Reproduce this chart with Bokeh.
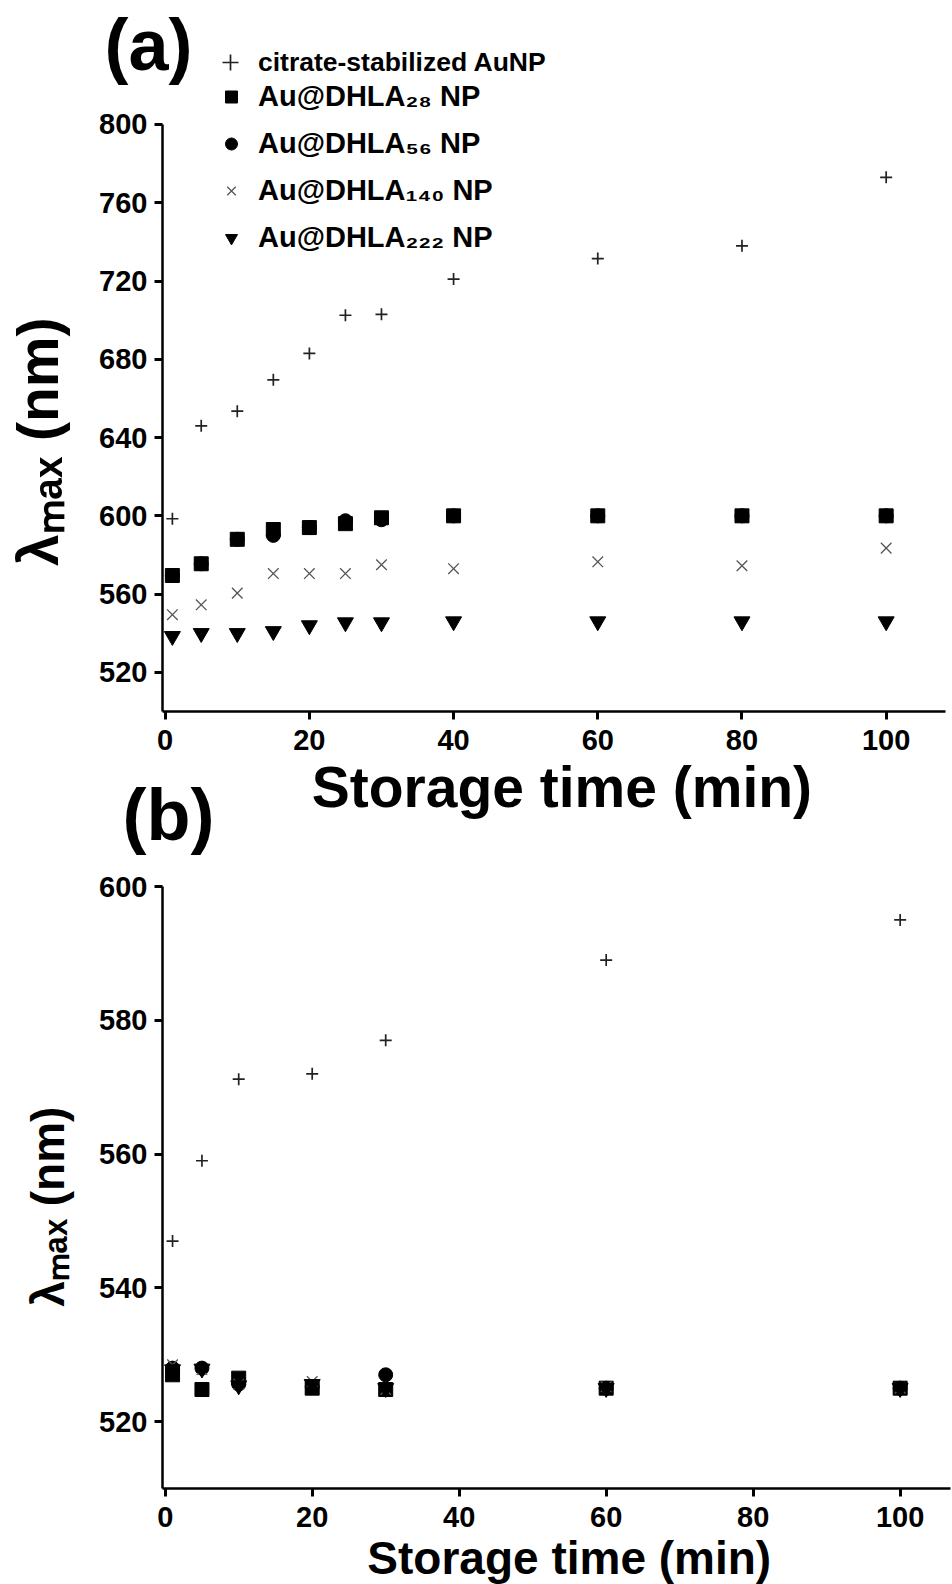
from bokeh.plotting import figure
from bokeh.models import Range1d, FixedTicker, Legend, LegendItem, Label
from bokeh.layouts import column
from bokeh.embed import file_html
from bokeh.resources import INLINE

FONT = "Liberation Sans"

# ---------------- data: panel (a) ----------------
time_a = [1, 5, 10, 15, 20, 25, 30, 40, 60, 80, 100]
citrate_a = [598.5, 646, 653.5, 669.5, 683, 702.5, 703, 721, 731.5, 738, 773]
dhla28_a = [569.5, 575.5, 588, 593, 594, 596, 599, 600, 600, 600, 600]
dhla56_a = [569.5, 575.5, 588, 590, 594, 597.5, 598, 600, 600, 600, 600]
dhla140_a = [549.5, 554.5, 560.5, 570.5, 570.5, 570.5, 575, 573, 576.5, 574.5, 583.5]
dhla222_a = [538.5, 540, 540, 541, 544, 545.5, 545.5, 546, 546, 546, 546]

# ---------------- data: panel (b) ----------------
time_b = [1, 5, 10, 20, 30, 60, 100]
citrate_b = [547, 559, 571.2, 572, 577, 589, 595]
dhla28_b = [527.0, 524.8, 526.5, 525.0, 524.8, 525.0, 525.0]
dhla56_b = [528.0, 528.0, 525.6, 525.2, 527.0, 525.0, 525.0]
dhla140_b = [528.5, 527.8, 525.6, 526.0, 524.8, 525.2, 525.0]
dhla222_b = [527.8, 527.9, 525.4, 525.6, 525.0, 525.0, 525.0]

x_ticks = [0, 20, 40, 60, 80, 100]
y_ticks_a = [520, 560, 600, 640, 680, 720, 760, 800]
y_ticks_b = [520, 540, 560, 580, 600]

labels = ["citrate-stabilized AuNP", "Au@DHLA\u2082\u2088 NP", "Au@DHLA\u2085\u2086 NP",
          "Au@DHLA\u2081\u2084\u2080 NP", "Au@DHLA\u2082\u2082\u2082 NP"]
x_label = "Storage time (min)"
y_label = "\u03bb\u2098\u2090\u2093 (nm)"
NBSP = "\u00a0"


def style_axes(p, tick_size, label_size, y_standoff, x_standoff, x_tick_standoff, y_tick_standoff):
    p.outline_line_color = None
    p.xgrid.visible = False
    p.ygrid.visible = False
    p.background_fill_color = "white"
    p.border_fill_color = "white"
    for ax in (p.xaxis[0], p.yaxis[0]):
        ax.axis_line_width = 2.5
        ax.axis_line_color = "black"
        ax.major_tick_line_width = 3
        ax.major_tick_line_color = "black"
        ax.major_tick_out = 8
        ax.major_tick_in = 0
        ax.minor_tick_line_color = None
        ax.major_label_text_font = FONT
        ax.major_label_text_font_style = "bold"
        ax.major_label_text_font_size = tick_size
        ax.major_label_text_color = "black"
        ax.axis_label_text_font = FONT
        ax.axis_label_text_font_style = "bold"
        ax.axis_label_text_font_size = label_size
        ax.axis_label_text_color = "black"
    p.xaxis[0].major_label_standoff = x_tick_standoff
    p.yaxis[0].major_label_standoff = y_tick_standoff
    p.yaxis[0].axis_label_standoff = y_standoff
    p.xaxis[0].axis_label_standoff = x_standoff


def add_series(p, t, cit, d28, d56, d140, d222):
    r_cit = p.scatter(t, cit, marker="cross", size=12, line_color="#222222", line_width=1.7)
    r28 = p.scatter(t, d28, marker="square", size=14, fill_color="black", line_color="black")
    r56 = p.scatter(t, d56, marker="circle", size=14, fill_color="black", line_color="black")
    r140 = p.scatter(t, d140, marker="x", size=15, line_color="#555555", line_width=1.3)
    r222 = p.scatter(t, d222, marker="inverted_triangle", size=16, fill_color="black", line_color="black")
    return r_cit, r28, r56, r140, r222


# ---------------- panel (a) ----------------
# frame covers the whole canvas; axes are pinned at the data origin corner
pa = figure(width=952, height=860, output_backend="svg", toolbar_location=None,
            x_range=Range1d(-22.84, 109.2), y_range=Range1d(423.85, 863.37),
            min_border=0)
style_axes(pa, "29px", "57px", 26, 1, 11, 7)
pa.xaxis.ticker = FixedTicker(ticks=x_ticks)
pa.yaxis.ticker = FixedTicker(ticks=y_ticks_a)
pa.xaxis.fixed_location = 500
pa.yaxis.fixed_location = -0.37
pa.xaxis.bounds = (-0.37, 108.2)
pa.yaxis.bounds = (500, 800)
pa.xaxis.axis_label = NBSP + x_label
pa.yaxis.axis_label = y_label + NBSP * 3

ra = add_series(pa, time_a, citrate_a, dhla28_a, dhla56_a, dhla140_a, dhla222_a)

leg1 = Legend(items=[LegendItem(label=labels[0], renderers=[ra[0]])],
              location=(210, 778), glyph_width=40, glyph_height=40, label_standoff=8,
              padding=0, margin=0, spacing=0, border_line_color=None,
              background_fill_alpha=0, label_text_font=FONT, label_text_font_style="bold",
              label_text_font_size="26.5px", label_text_color="black")
leg2 = Legend(items=[LegendItem(label=labels[i], renderers=[ra[i]]) for i in range(1, 5)],
              location=(216, 599), glyph_width=30, glyph_height=47, label_standoff=12,
              padding=0, margin=0, spacing=0, border_line_color=None,
              background_fill_alpha=0, label_text_font=FONT, label_text_font_style="bold",
              label_text_font_size="29px", label_text_color="black")
pa.add_layout(leg1)
pa.add_layout(leg2)

pa.add_layout(Label(x=104, y=816, x_units="screen", y_units="screen", text="(a)",
                    text_font=FONT, text_font_style="bold", text_font_size="72px",
                    text_baseline="alphabetic", text_color="black"))
pa.add_layout(Label(x=122, y=46, x_units="screen", y_units="screen", text="(b)",
                    text_font=FONT, text_font_style="bold", text_font_size="72px",
                    text_baseline="alphabetic", text_color="black"))

# ---------------- panel (b) ----------------
pb = figure(width=952, height=724, output_backend="svg", toolbar_location=None,
            x_range=Range1d(-22.41, 107.12), y_range=Range1d(495.65, 603.89),
            min_border=0)
style_axes(pb, "29px", "46px", 22, 2, 10, 7)
pb.xaxis.ticker = FixedTicker(ticks=x_ticks)
pb.yaxis.ticker = FixedTicker(ticks=y_ticks_b)
pb.xaxis.fixed_location = 510
pb.yaxis.fixed_location = -0.37
pb.xaxis.bounds = (-0.37, 106.8)
pb.yaxis.bounds = (510, 600)
pb.xaxis.axis_label = NBSP * 2 + x_label
pb.yaxis.axis_label = y_label + NBSP * 3

add_series(pb, time_b, citrate_b, dhla28_b, dhla56_b, dhla140_b, dhla222_b)

layout = column(pa, pb, spacing=0)
open("out.html", "w").write(file_html(layout, INLINE))
